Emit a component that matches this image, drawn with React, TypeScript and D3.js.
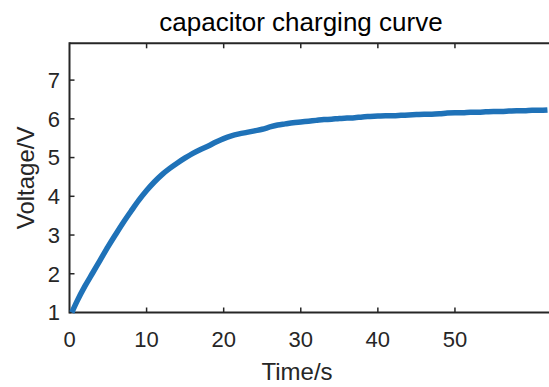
import { useRef, useEffect } from 'react';
import * as d3 from 'd3';

// time (s) and measured voltage (V)
const times = [
  0.3, 1, 2, 3, 4, 5, 6, 7, 8, 9, 10, 11, 12, 13, 14, 15, 16, 17, 18, 19, 20,
  21, 22, 23, 24, 25, 26, 27, 28, 29, 30, 31, 32, 33, 34, 35, 36, 37, 38, 39, 40,
  41, 42, 43, 44, 45, 46, 47, 48, 49, 50, 51, 52, 53, 54, 55, 56, 57, 58, 59, 60,
  61, 62,
];
const voltages = [
  1.0, 1.3, 1.68, 2.02, 2.36, 2.7, 3.02, 3.33, 3.62, 3.9, 4.15, 4.37, 4.56, 4.72, 4.86, 4.99, 5.11, 5.21, 5.3, 5.4, 5.49,
  5.56, 5.61, 5.65, 5.69, 5.73, 5.79, 5.84, 5.87, 5.9, 5.92, 5.94, 5.96, 5.98, 5.99, 6.01, 6.02, 6.03, 6.05, 6.06, 6.07,
  6.08, 6.08, 6.09, 6.1, 6.11, 6.12, 6.12, 6.13, 6.15, 6.16, 6.16, 6.17, 6.17, 6.18, 6.19, 6.19, 6.2, 6.21, 6.21, 6.22,
  6.22, 6.23,
];
const xTicks = [0, 10, 20, 30, 40, 50];
const yTicks = [1, 2, 3, 4, 5, 6, 7];

const W = 549;
const H = 387;
const FONT = '"Liberation Sans", Arial, Helvetica, sans-serif';
const AXIS = '#262626';

export default function App() {
  const svgRef = useRef<SVGSVGElement>(null);

  useEffect(() => {
    const svg = d3.select(svgRef.current);
    svg.selectAll('*').remove();

    const left = 69.5;
    const top = 43.3;
    const bottom = 312.5;

    const x = d3.scaleLinear().domain([0, 62.2]).range([left, W]);
    const y = d3.scaleLinear().domain([1, 7.95]).range([bottom, top]);

    // axis box lines
    svg.append('line')
      .attr('x1', left).attr('x2', W + 2).attr('y1', bottom).attr('y2', bottom)
      .attr('stroke', AXIS).attr('stroke-width', 2);
    svg.append('line')
      .attr('x1', left).attr('x2', W + 2).attr('y1', top).attr('y2', top)
      .attr('stroke', AXIS).attr('stroke-width', 2);
    svg.append('line')
      .attr('x1', left).attr('x2', left).attr('y1', top - 1).attr('y2', bottom + 1)
      .attr('stroke', AXIS).attr('stroke-width', 2);

    const tickLen = 5;

    // x ticks, inward at bottom and top
    xTicks.forEach(t => {
      if (t === 0) return;
      const px = x(t);
      svg.append('line')
        .attr('x1', px).attr('x2', px).attr('y1', bottom).attr('y2', bottom - tickLen)
        .attr('stroke', AXIS).attr('stroke-width', 1.5);
      svg.append('line')
        .attr('x1', px).attr('x2', px).attr('y1', top).attr('y2', top + tickLen)
        .attr('stroke', AXIS).attr('stroke-width', 1.5);
    });
    svg.selectAll('text.xt')
      .data(xTicks)
      .join('text')
      .attr('class', 'xt')
      .attr('x', d => x(d))
      .attr('y', 347)
      .attr('text-anchor', 'middle')
      .attr('font-family', FONT)
      .attr('font-size', 22)
      .attr('fill', AXIS)
      .text(d => d);

    // y ticks
    yTicks.forEach(v => {
      if (v === 1) return;
      const py = y(v);
      svg.append('line')
        .attr('x1', left).attr('x2', left + tickLen).attr('y1', py).attr('y2', py)
        .attr('stroke', AXIS).attr('stroke-width', 1.5);
    });
    svg.selectAll('text.yt')
      .data(yTicks)
      .join('text')
      .attr('class', 'yt')
      .attr('x', 60)
      .attr('y', d => y(d))
      .attr('dy', '0.36em')
      .attr('text-anchor', 'end')
      .attr('font-family', FONT)
      .attr('font-size', 22)
      .attr('fill', AXIS)
      .text(d => d);

    // curve
    const pts = times.map((t, i) => [t, voltages[i]] as [number, number]);
    const line = d3.line<[number, number]>()
      .x(d => x(d[0]))
      .y(d => y(d[1]))
      .curve(d3.curveMonotoneX);
    svg.append('path')
      .datum(pts)
      .attr('d', line)
      .attr('fill', 'none')
      .attr('stroke', '#1f72b8')
      .attr('stroke-width', 5.5)
      .attr('stroke-linejoin', 'round');

    // labels
    svg.append('text')
      .attr('x', 301)
      .attr('y', 31)
      .attr('text-anchor', 'middle')
      .attr('font-family', FONT)
      .attr('font-size', 26)
      .attr('fill', '#000')
      .text('capacitor charging curve');

    svg.append('text')
      .attr('x', 297)
      .attr('y', 380)
      .attr('text-anchor', 'middle')
      .attr('font-family', FONT)
      .attr('font-size', 24)
      .attr('fill', AXIS)
      .text('Time/s');

    svg.append('text')
      .attr('transform', `translate(34,${(top + bottom) / 2}) rotate(-90)`)
      .attr('text-anchor', 'middle')
      .attr('font-family', FONT)
      .attr('font-size', 24)
      .attr('fill', AXIS)
      .text('Voltage/V');
  }, []);

  return (
    <svg
      ref={svgRef}
      width={W}
      height={H}
      style={{ position: 'absolute', left: 0, top: 0, background: '#fff' }}
    />
  );
}
